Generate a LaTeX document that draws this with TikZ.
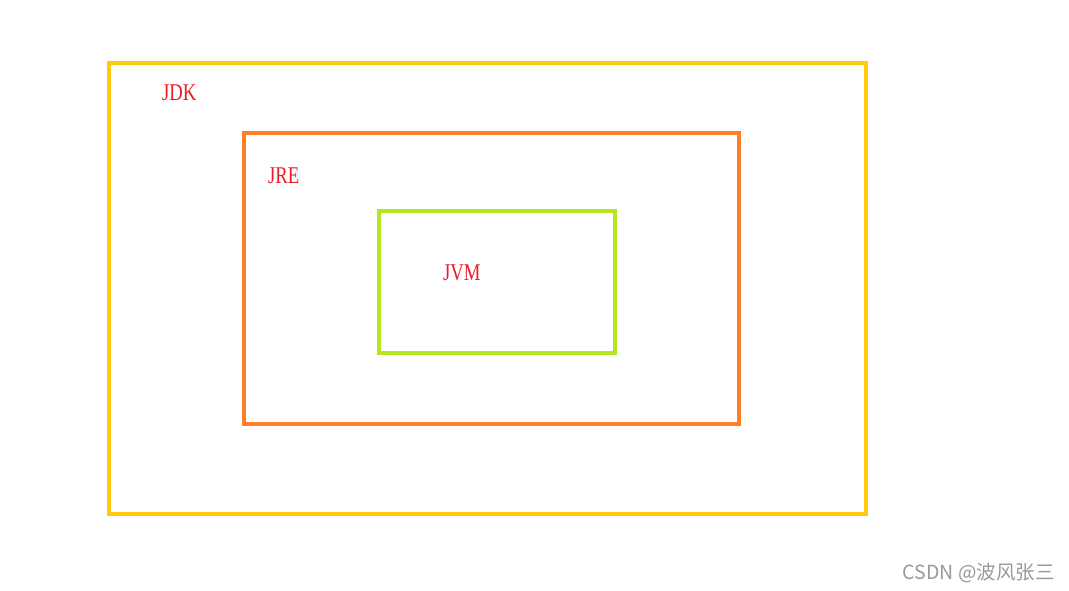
\documentclass[tikz,border=0pt]{standalone}
\usepackage{fontspec}
\setmainfont{Liberation Serif}
\newfontfamily\cjk{Noto Sans CJK SC}
\usepackage{tikz}
\definecolor{paintyellow}{HTML}{FFC90E}
\definecolor{paintorange}{HTML}{FF7F27}
\definecolor{paintlime}{HTML}{B5E61D}
\definecolor{paintred}{HTML}{ED1C24}

\begin{document}
\begin{tikzpicture}[x=1pt,y=-1pt]
 \tikzstyle{layer}=[line width=4pt]
 \tikzstyle{tag}=[text=paintred,font=\fontsize{24}{24}\selectfont,xscale=0.78,anchor=base west,inner sep=0pt]
 \useasboundingbox[fill=white] (0,0) rectangle (1069,590);

 \draw [layer,draw=paintyellow] (109,63) rectangle (866,514); % JDK
 \draw [layer,draw=paintorange] (244,133) rectangle (739,424); % JRE
 \draw [layer,draw=paintlime] (379,211) rectangle (615,353); % JVM

 \node (jdk) at (162,100) [tag] {JDK};
 \node (jre) at (268,183) [tag] {JRE};
 \node (jvm) at (443,280) [tag] {JVM};

 \node (mark) at (1055,579) [anchor=base east,inner sep=0pt,text=black!40,font=\cjk\fontsize{19.5}{19.5}\selectfont] {CSDN @波风张三};
\end{tikzpicture}
\end{document}
